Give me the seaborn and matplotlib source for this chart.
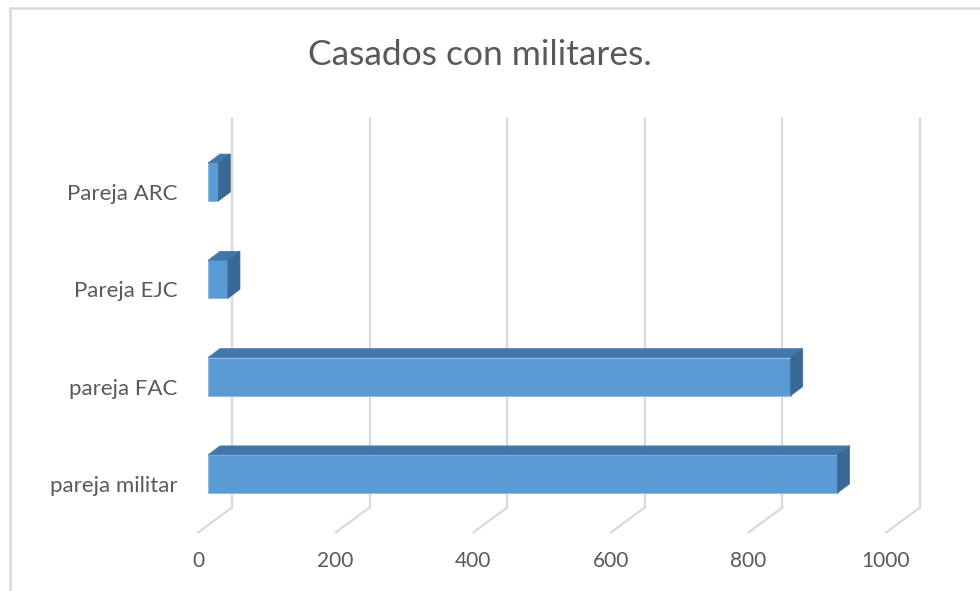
import matplotlib
matplotlib.use("Agg")
import matplotlib.pyplot as plt
import seaborn as sns
import pandas as pd
from matplotlib.transforms import Affine2D, IdentityTransform
from matplotlib.lines import Line2D
from matplotlib.patches import Polygon

categories = ["Pareja ARC", "Pareja EJC", "pareja FAC", "pareja militar"]
values = [15, 29, 847, 915]
xticks = [0, 200, 400, 600, 800, 1000]
title = "Casados con militares."

sns.set_theme(style="white")
plt.rcParams["font.family"] = ["Lato", "DejaVu Sans"]

W, H = 980, 591
fig = plt.figure(figsize=(W / 100, H / 100), dpi=100)
fig.patch.set_facecolor("white")
ax = fig.add_axes([198 / W, 1 - 532.5 / H, (886 - 198) / W, (532.5 - 143.4) / H])
ax.set_facecolor("none")

df = pd.DataFrame({"cat": categories, "val": values})
sns.barplot(data=df, x="val", y="cat", orient="h", color="#5b9bd5",
            saturation=1, width=0.39, ax=ax, zorder=3)

ax.set_xlim(0, 1000)
ax.set_ylim(3.5, -0.5)
ax.set_xticks(xticks)
ax.set_xticklabels([str(t) for t in xticks])
ax.set_xlabel("")
ax.set_ylabel("")
for s in ax.spines.values():
    s.set_visible(False)
ax.grid(False)
ax.tick_params(axis="x", length=0, pad=13.3, labelsize=15, labelcolor="#595959")
ax.tick_params(axis="y", length=0, pad=14.5, labelsize=16, labelcolor="#595959")

grid_c = "#d9d9d9"
wall = Affine2D().translate(34, 25)
front = Affine2D().translate(10, 10)
depth = (12, 9)

# back wall gridlines and floor diagonals
for v in xticks:
    ax.plot([v, v], [3.5, -0.5], transform=ax.transData + wall, color=grid_c,
            lw=1.6, clip_on=False, zorder=0)
    p0 = ax.transData.transform((v, 3.5))
    fig.add_artist(Line2D([p0[0], p0[0] + 34], [p0[1], p0[1] + 25],
                          transform=IdentityTransform(), color=grid_c, lw=1.6, zorder=0))

# 3D bars: shift front faces, add top and side faces
for p in list(ax.patches):
    p.set_transform(ax.transData + front)
    p.set_edgecolor("#8cb8e2")
    p.set_linewidth(0.6)
    b = p.get_bbox()
    pts = (ax.transData + front).transform([(b.x0, b.y0), (b.x1, b.y1)])
    xl, xr = min(pts[:, 0]), max(pts[:, 0])
    yb, yt = min(pts[:, 1]), max(pts[:, 1])
    dx, dy = depth
    top = Polygon([(xl, yt), (xr, yt), (xr + dx, yt + dy), (xl + dx, yt + dy)],
                  closed=True, transform=IdentityTransform(), facecolor="#4376ab",
                  edgecolor="#4376ab", lw=0.5, zorder=3)
    side = Polygon([(xr, yt), (xr, yb), (xr + dx, yb + dy), (xr + dx, yt + dy)],
                   closed=True, transform=IdentityTransform(), facecolor="#3a6895",
                   edgecolor="#3a6895", lw=0.5, zorder=3)
    fig.add_artist(top)
    fig.add_artist(side)

# chart frame
fig.add_artist(Line2D([10 / W, 10 / W], [0, 1 - 8 / H], transform=fig.transFigure,
                      color="#d9d9d9", lw=1.8))
fig.add_artist(Line2D([10 / W, 1], [1 - 8 / H, 1 - 8 / H], transform=fig.transFigure,
                      color="#d9d9d9", lw=1.8))

fig.text(479.5 / W, 1 - 55 / H, title, ha="center", va="center",
         fontsize=25.5, color="#595959")

fig.savefig("out.png", dpi=100, facecolor="white")
